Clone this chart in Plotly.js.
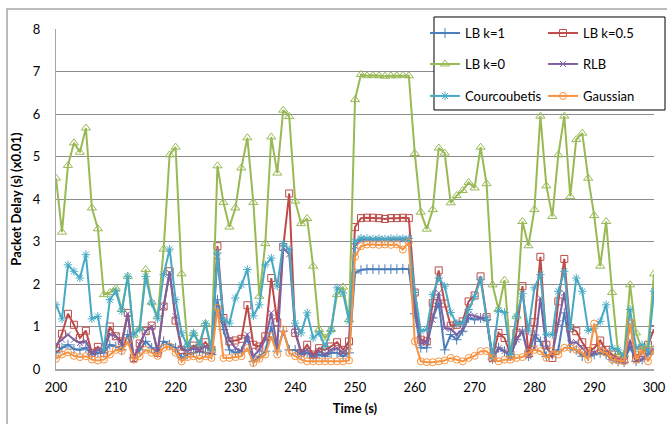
<!DOCTYPE html>
<html>
<head>
<meta charset="utf-8">
<script src="https://cdn.plot.ly/plotly-3.0.1.min.js"></script>
<style>html,body{margin:0;padding:0;background:#fff;}#chart{width:667px;height:424px;}</style>
</head>
<body>
<div id="chart"></div>
<script>
var time = [200,201,202,203,204,205,206,207,208,209,210,211,212,213,214,215,216,217,218,219,220,
221,222,223,224,225,226,227,228,229,230,231,232,233,234,235,236,237,238,239,240,
241,242,243,244,245,246,247,248,249,250,251,252,253,254,255,256,257,258,259,260,
261,262,263,264,265,266,267,268,269,270,271,272,273,274,275,276,277,278,279,280,
281,282,283,284,285,286,287,288,289,290,291,292,293,294,295,296,297,298,299,300];

var lbK1 = [0.38,0.5,0.57,0.47,0.45,0.5,0.34,0.38,0.38,0.57,0.53,0.45,0.81,0.26,0.45,0.65,0.5,0.38,0.65,0.57,0.5,
0.26,0.34,0.38,0.42,0.38,0.34,1.63,0.93,0.45,0.38,0.42,0.73,0.18,0.3,0.42,1.0,0.42,0.89,0.45,0.45,
0.34,0.38,0.26,0.34,0.3,0.38,0.38,0.3,0.38,2.26,2.33,2.35,2.35,2.34,2.35,2.35,2.35,2.36,2.35,1.3,
0.5,0.5,1.2,1.55,0.45,0.81,0.69,0.89,1.2,1.16,1.2,1.16,0.24,0.5,0.42,0.3,0.69,0.89,0.3,0.8,
0.65,0.3,0.34,0.45,1.32,0.49,0.45,0.3,0.3,0.34,0.38,0.34,0.22,0.18,0.16,0.53,0.18,0.22,0.34,0.45];

var lbK05 = [0.5,0.83,1.3,1.04,0.73,0.9,0.38,0.52,0.38,1.0,0.77,0.65,1.32,0.26,0.6,0.89,1.02,0.38,1.47,2.3,1.14,
0.45,0.44,0.55,0.49,0.63,0.45,2.89,1.2,0.65,0.67,0.71,1.5,0.57,0.53,0.77,2.14,1.1,2.87,4.13,0.85,
0.38,0.57,0.34,0.49,0.45,0.53,0.63,0.45,0.65,3.34,3.55,3.56,3.56,3.55,3.53,3.55,3.55,3.56,3.55,1.8,
0.69,0.65,1.55,2.32,1.54,1.02,1.04,1.12,1.59,1.73,2.18,1.22,0.26,0.85,0.73,0.34,0.85,1.95,0.36,1.1,
2.64,0.57,0.26,1.59,2.59,0.96,0.89,0.63,0.42,0.49,0.67,0.45,0.34,0.26,0.22,1.07,0.26,0.38,0.57,0.94];

var lbK0 = [4.49,3.22,4.79,5.32,5.1,5.67,3.79,3.3,1.75,1.8,1.9,1.4,2.18,0.8,0.96,2.34,1.57,1.24,2.82,5.04,5.22,
2.24,0.57,0.83,0.61,1.07,0.49,4.78,3.92,3.34,3.79,4.73,5.44,3.92,1.71,2.95,5.46,4.61,6.09,5.94,3.95,
3.42,3.54,2.42,0.93,0.73,0.93,1.75,1.93,1.16,6.34,6.93,6.9,6.91,6.9,6.89,6.9,6.9,6.91,6.9,5.07,
3.69,3.29,3.75,5.2,5.08,3.91,4.08,4.2,4.39,4.26,5.22,4.36,1.98,1.4,2.09,0.34,1.24,3.47,2.9,3.75,
5.95,4.31,3.59,5.04,5.95,4.06,5.4,5.55,4.49,3.61,2.42,3.47,1.8,0.38,0.34,1.98,0.85,0.45,0.57,2.24];

var rlb = [0.57,0.69,0.81,0.69,0.61,0.65,0.38,0.45,0.42,0.82,0.77,0.57,1.3,0.22,0.57,0.89,1.0,0.42,1.47,2.26,1.24,
0.49,0.42,0.49,0.45,0.53,0.42,2.65,1.12,0.69,0.49,0.42,0.81,0.3,0.45,0.69,1.32,0.53,2.85,2.7,0.9,
0.38,0.45,0.3,0.42,0.34,0.45,0.49,0.38,0.53,2.89,3.05,3.05,3.04,3.05,3.05,3.04,3.05,3.05,3.05,1.5,
0.61,0.63,1.16,1.79,0.96,0.94,0.81,0.93,1.28,1.25,1.2,1.2,0.22,0.49,0.42,0.3,0.69,0.89,0.3,0.49,
1.67,0.49,0.34,1.08,1.79,0.61,0.63,0.49,0.34,0.38,0.49,0.38,0.24,0.2,0.18,0.67,0.2,0.22,0.38,0.45];

var courcoubetis = [1.51,1.18,2.45,2.3,2.14,2.69,1.18,1.24,0.45,1.63,1.83,1.36,2.18,0.8,0.94,2.18,1.55,1.18,2.22,2.82,1.63,
0.85,0.53,0.85,0.57,1.07,0.45,2.73,1.16,1.08,1.67,1.98,2.34,1.25,1.51,2.45,2.61,1.95,2.95,2.81,1.08,
0.85,1.32,0.73,0.85,0.53,0.91,1.91,1.79,1.12,3.0,3.08,3.07,3.06,3.07,3.06,3.07,3.07,3.07,3.07,1.8,
0.89,0.93,1.75,2.14,1.95,1.33,1.07,1.08,1.4,1.71,2.1,1.16,0.3,1.38,1.33,0.34,1.24,1.77,0.9,1.91,
2.22,0.81,0.81,1.83,2.3,0.96,2.14,1.83,0.91,0.96,1.12,1.51,0.49,0.45,0.3,1.4,0.49,0.57,0.4,1.83];

var gaussian = [0.24,0.34,0.39,0.31,0.28,0.3,0.22,0.2,0.22,0.34,0.45,0.42,0.65,0.22,0.3,0.45,0.38,0.31,0.5,0.53,0.38,
0.18,0.28,0.3,0.24,0.3,0.26,1.44,0.26,0.26,0.28,0.3,0.49,0.14,0.24,0.34,0.77,0.34,0.93,0.38,0.3,
0.22,0.18,0.18,0.18,0.18,0.18,0.18,0.18,0.2,2.64,2.89,2.93,2.93,2.92,2.93,2.92,2.93,2.81,2.98,0.65,
0.18,0.16,0.16,0.18,0.2,0.26,0.22,0.18,0.26,0.31,0.42,0.42,0.26,0.18,0.22,0.22,0.26,0.28,0.38,0.45,
0.42,0.26,0.42,0.34,0.5,0.5,0.45,0.38,0.22,1.07,0.42,0.38,0.22,0.2,0.18,1.08,0.22,0.45,0.18,0.45];

var seriesNames = ['LB k=1','LB k=0.5','LB k=0','RLB','Courcoubetis','Gaussian'];
var seriesData = [lbK1, lbK05, lbK0, rlb, courcoubetis, gaussian];
var seriesColors = ['#4A7EBB','#BE4B48','#98B954','#7D60A0','#46AAC5','#F69240'];
var seriesSymbols = ['cross-thin','square-open','triangle-up-open','x-thin','asterisk','circle-open'];
var seriesSizes = [7,7,8,6,7,7];
var seriesLegend = ['legend','legend','legend2','legend2','legend3','legend3'];

var FONT = 'Lato, "Open Sans", sans-serif';
var traces = seriesNames.map(function(n, i){
  return {
    x: time, y: seriesData[i], name: n, type: 'scatter', mode: 'lines+markers',
    legend: seriesLegend[i],
    line: {color: seriesColors[i], width: 2},
    marker: {symbol: seriesSymbols[i], size: seriesSizes[i], color: seriesColors[i],
             line: {color: seriesColors[i], width: 1}}
  };
});

function legendRow(y){
  return {orientation: 'h', x: 0.617, xanchor: 'left', y: y, yanchor: 'middle',
          bgcolor: 'rgba(0,0,0,0)', borderwidth: 0, entrywidth: 73, entrywidthmode: 'pixels',
          font: {family: FONT, size: 13, color: '#000'}, itemwidth: 30};
}

var layout = {
  width: 667, height: 424,
  margin: {l: 56, r: 13, t: 29, b: 55, autoexpand: false},
  paper_bgcolor: '#fff', plot_bgcolor: '#fff',
  font: {family: FONT, size: 13, color: '#000'},
  showlegend: true,
  legend: legendRow(0.988),
  legend2: legendRow(0.897),
  legend3: legendRow(0.803),
  xaxis: {
    range: [200, 300], tick0: 200, dtick: 10, showgrid: false, zeroline: false,
    showline: true, linecolor: '#A6A6A6', linewidth: 1.5, ticks: '',
    tickfont: {family: FONT, size: 13, color: '#000'}, ticklabelstandoff: 6, automargin: false,
    title: {text: '<b>Time (s)</b>', font: {family: FONT, size: 13, color: '#000'}, standoff: 10}
  },
  yaxis: {
    range: [0, 8], tick0: 0, dtick: 1, showgrid: true, gridcolor: '#8C8C8C', gridwidth: 1,
    zeroline: false, showline: true, linecolor: '#A6A6A6', linewidth: 1, ticks: '', automargin: false,
    tickfont: {family: FONT, size: 13, color: '#000'}, ticklabelstandoff: 12,
    title: {text: '<b>Packet Delay (s) (x0.01)</b>', font: {family: FONT, size: 13, color: '#000'}, standoff: 8}
  },
  shapes: [
    {type: 'rect', xref: 'paper', yref: 'paper', x0: -0.0819, x1: 1.2, y0: -0.4, y1: 1.0588,
     line: {color: '#A6A6A6', width: 1.5}, fillcolor: 'rgba(0,0,0,0)', layer: 'above'},
    {type: 'rect', xref: 'paper', yref: 'paper', x0: 0.6321, x1: 1.0184, y0: 0.7618, y1: 1.0353,
     line: {color: '#000', width: 1}, fillcolor: '#fff', layer: 'above'}
  ]
};

Plotly.newPlot('chart', traces, layout, {staticPlot: true, displayModeBar: false});
</script>
</body>
</html>
